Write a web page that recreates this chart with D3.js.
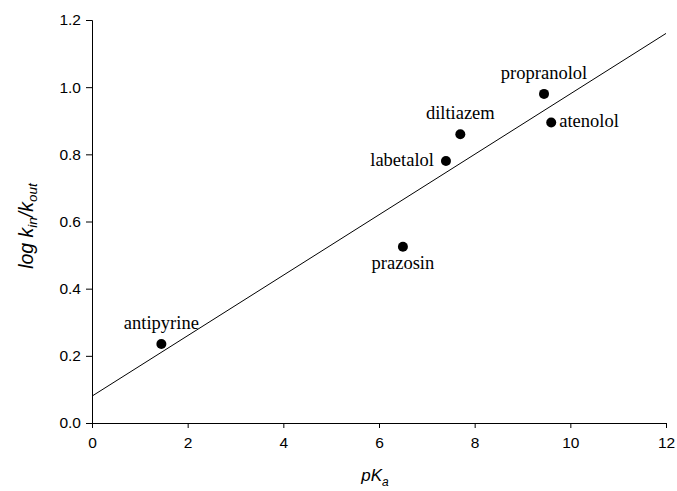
<!DOCTYPE html>
<html><head><meta charset="utf-8">
<script src="https://cdn.jsdelivr.net/npm/d3@7"></script>
<style>body{margin:0;background:#fff}</style>
</head><body>
<svg id="c" width="677" height="491"></svg>
<script>
const drugs = ["antipyrine","prazosin","labetalol","diltiazem","propranolol","atenolol"];
const pKa = [1.45, 6.5, 7.4, 7.7, 9.45, 9.6];
const logK = [0.235, 0.525, 0.78, 0.86, 0.98, 0.895];
const labelPos = ["above","below","left","above","above","right"];
const fitIntercept = 0.08, fitSlope = 0.09;
const xTicks = [0,2,4,6,8,10,12];
const yTicks = [0,0.2,0.4,0.6,0.8,1.0,1.2];

const svg = d3.select("#c");
const x = d3.scaleLinear().domain([0,12]).range([92,666]);
const y = d3.scaleLinear().domain([0,1.2]).range([423,20]);

const xa = svg.append("g").attr("transform","translate(0,423)")
  .call(d3.axisBottom(x).tickValues(xTicks).tickFormat(d3.format("d")).tickSizeOuter(0).tickSize(5));
const ya = svg.append("g").attr("transform","translate(92,0)")
  .call(d3.axisLeft(y).tickValues(yTicks).tickFormat(d3.format(".1f")).tickSizeOuter(0).tickSize(6));
[xa,ya].forEach(a=>{
  a.selectAll("text").attr("font-family","Liberation Sans, Arial, sans-serif").attr("font-size",15.5).attr("fill","#000");
  a.selectAll("line,path").attr("stroke","#000");
});
xa.selectAll("text").attr("dy","1.1em");
ya.selectAll("text").attr("x",-11);

svg.append("line")
  .attr("x1",x(0)).attr("y1",y(fitIntercept))
  .attr("x2",x(12)).attr("y2",y(fitIntercept+fitSlope*12))
  .attr("stroke","#000").attr("stroke-width",1);

const pts = drugs.map((d,i)=>({name:d,x:pKa[i],y:logK[i],pos:labelPos[i]}));
svg.selectAll("circle.p").data(pts).enter().append("circle")
  .attr("cx",d=>x(d.x)).attr("cy",d=>y(d.y)).attr("r",5).attr("fill","#000");

svg.selectAll("text.lab").data(pts).enter().append("text")
  .attr("font-family","Liberation Serif, Times New Roman, serif").attr("font-size",18.5)
  .attr("x",d=>{const px=x(d.x); return d.pos==="left"?px-12:d.pos==="right"?px+8:px;})
  .attr("y",d=>{const py=y(d.y); return d.pos==="above"?py-15:d.pos==="below"?py+22:py+5;})
  .attr("text-anchor",d=>d.pos==="left"?"end":d.pos==="right"?"start":"middle")
  .text(d=>d.name);

// axis titles
const yt = svg.append("text").attr("transform","translate(33,226) rotate(-90)")
  .attr("text-anchor","middle").attr("font-family","Liberation Sans, Arial, sans-serif")
  .attr("font-size",19.5).attr("font-style","italic");
yt.append("tspan").text("log k");
yt.append("tspan").attr("font-size",13.5).attr("dy",4).text("in");
yt.append("tspan").attr("dy",-4).text("/k");
yt.append("tspan").attr("font-size",13.5).attr("dy",4).text("out");

const xt = svg.append("text").attr("x",375).attr("y",481)
  .attr("text-anchor","middle").attr("font-family","Liberation Sans, Arial, sans-serif")
  .attr("font-size",17).attr("font-style","italic");
xt.append("tspan").text("pK");
xt.append("tspan").attr("font-size",12).attr("dy",5).text("a");
</script>
</body></html>
